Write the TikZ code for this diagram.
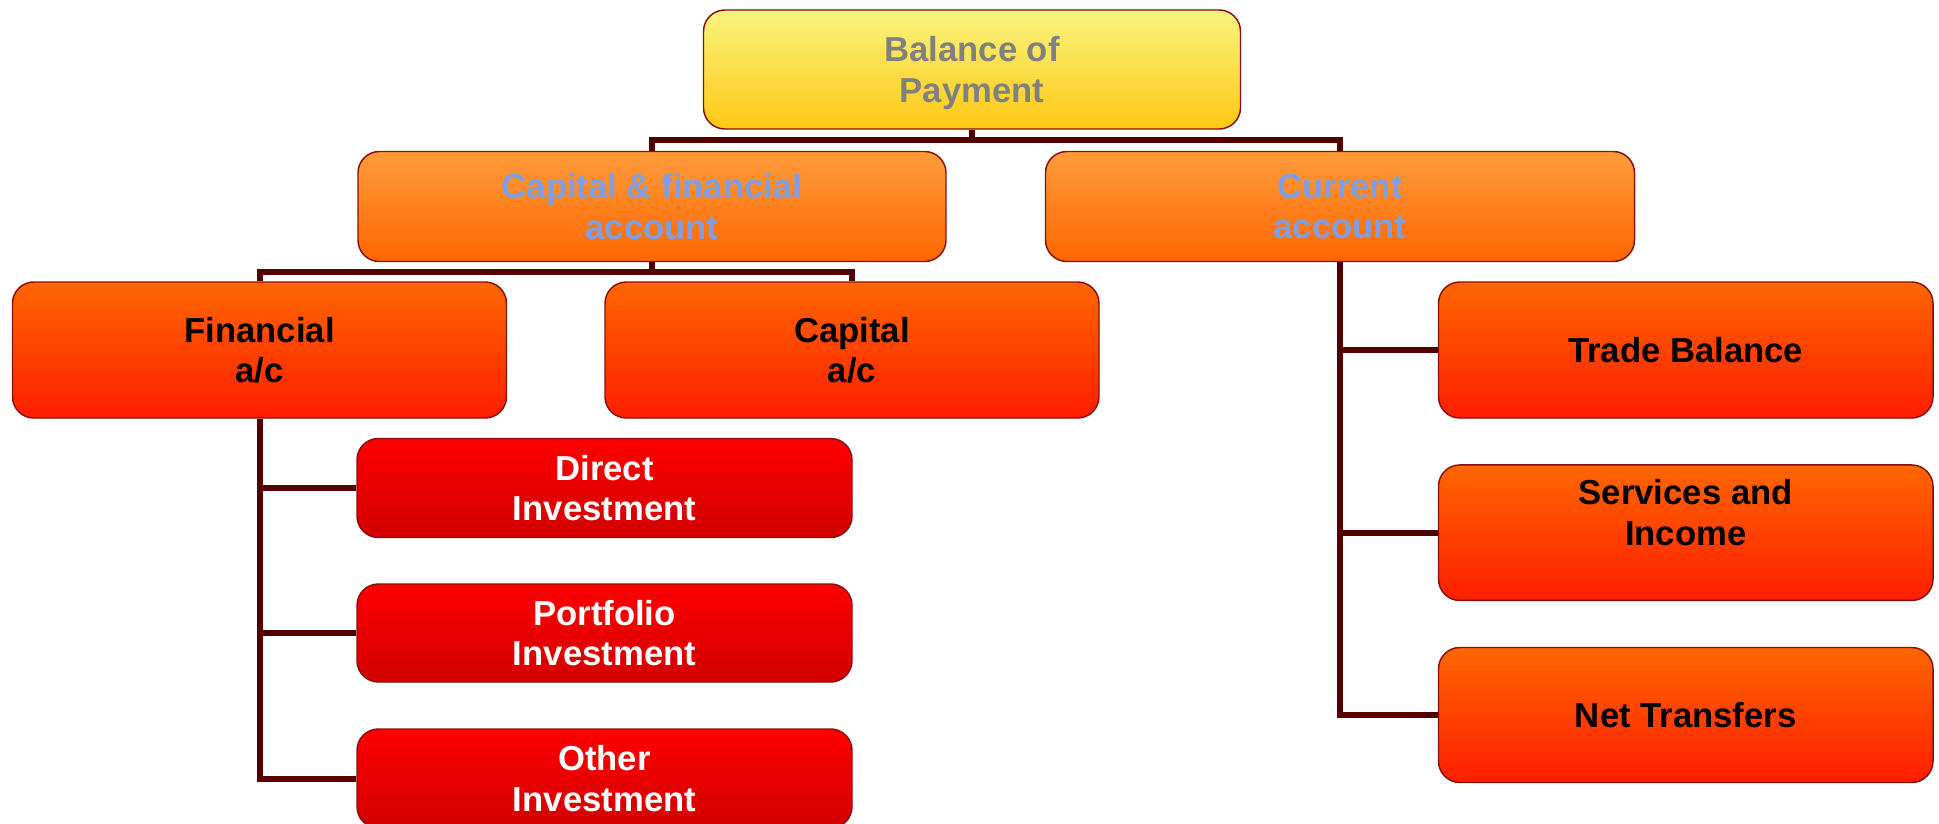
\documentclass[tikz,border=0pt]{standalone}
\usepackage{fontspec}
\setmainfont{Liberation Sans}
\definecolor{conncol}{HTML}{550000}
\definecolor{edgecol}{HTML}{8A0F0F}
\definecolor{txtgrey}{HTML}{808080}
\definecolor{txtblue}{HTML}{7F9FE4}
\definecolor{ytop}{HTML}{F8F47E}
\definecolor{ybot}{HTML}{FFC814}
\definecolor{otop}{HTML}{FF9C3C}
\definecolor{obot}{HTML}{FF6600}
\definecolor{rotop}{HTML}{FF6600}
\definecolor{robot}{HTML}{FF1E00}
\definecolor{rtop}{HTML}{FF0000}
\definecolor{rbot}{HTML}{D20000}
\tikzset{
  box/.style={draw=edgecol, line width=1.1pt, rounded corners=16pt, align=center,
    inner sep=0pt, text depth=0pt, font=\bfseries\fontsize{26}{30.5}\selectfont},
  topbox/.style={box, top color=ytop, bottom color=ybot, text=txtgrey},
  accbox/.style={box, top color=otop, bottom color=obot, text=txtblue},
  subbox/.style={box, top color=rotop, bottom color=robot, text=black},
  invbox/.style={box, top color=rtop, bottom color=rbot, text=white},
  conn/.style={draw=conncol, line width=4.5pt, line join=miter},
}
\begin{document}
\begin{tikzpicture}[x=0.75pt, y=-0.75pt]
\useasboundingbox (0,0) rectangle (1939,824);
\clip (0,0) rectangle (1939,824);
% boxes
\node[topbox, minimum width=537*0.75pt, minimum height=119*0.75pt] (bop) at (972,69.5) {Balance of\\Payment};
\node[accbox, minimum width=588*0.75pt, minimum height=110*0.75pt] (caf) at (652,206.5) {Capital \& financial\\account};
\node[accbox, minimum width=589*0.75pt, minimum height=110*0.75pt] (cur) at (1340,206.5) {Current\\account};
\node[subbox, minimum width=494*0.75pt, minimum height=136*0.75pt] (fin) at (259.5,350) {Financial\\a/c};
\node[subbox, minimum width=494*0.75pt, minimum height=136*0.75pt] (cap) at (852,350) {Capital\\a/c};
\node[invbox, minimum width=495*0.75pt, minimum height=99*0.75pt] (dir) at (604.5,488) {Direct\\Investment};
\node[invbox, minimum width=495*0.75pt, minimum height=98*0.75pt] (por) at (604.5,633) {Portfolio\\Investment};
\node[invbox, minimum width=495*0.75pt, minimum height=99*0.75pt] (oth) at (604.5,778.5) {Other\\Investment};
\node[subbox, minimum width=494.5*0.75pt, minimum height=136*0.75pt] (tra) at (1685.75,350) {Trade Balance};
\node[subbox, minimum width=494.5*0.75pt, minimum height=135.5*0.75pt] (ser) at (1685.75,532.7) {Services and\\Income\\\strut};
\node[subbox, minimum width=494.5*0.75pt, minimum height=135*0.75pt] (net) at (1685.75,715) {Net Transfers};
% connectors
\coordinate (b1) at (972,140);
\coordinate (b2) at (652,272);
\draw[conn] (bop.south) -- (b1);
\draw[conn] (caf.north) |- (b1) -| (cur.north);
\draw[conn] (caf.south) -- (b2);
\draw[conn] (fin.north) |- (b2) -| (cap.north);
\draw[conn] (fin.south) |- (oth.west);
\draw[conn] (fin.south |- dir.west) -- (dir.west);
\draw[conn] (fin.south |- por.west) -- (por.west);
\draw[conn] (cur.south) |- (net.west);
\draw[conn] (cur.south |- tra.west) -- (tra.west);
\draw[conn] (cur.south |- ser.west) -- (ser.west);
\end{tikzpicture}
\end{document}
